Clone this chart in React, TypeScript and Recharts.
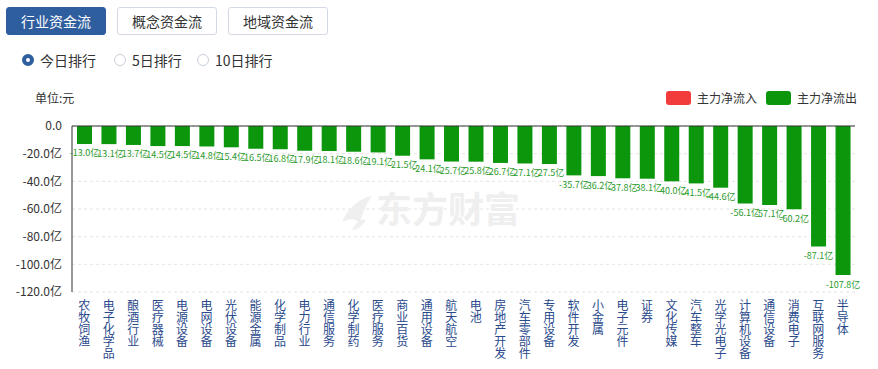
import React from "react";
import { BarChart, Bar, XAxis, YAxis, CartesianGrid, ReferenceLine, LabelList } from "recharts";

const categories = ["农牧饲渔","电子化学品","酿酒行业","医疗器械","电源设备","电网设备","光伏设备","能源金属","化学制品","电力行业","通信服务","化学制药","医疗服务","商业百货","通用设备","航天航空","电池","房地产开发","汽车零部件","专用设备","软件开发","小金属","电子元件","证券","文化传媒","汽车整车","光学光电子","计算机设备","通信设备","消费电子","互联网服务","半导体"];
const netFlow = [-13.0,-13.1,-13.7,-14.5,-14.5,-14.8,-15.4,-16.5,-16.8,-17.9,-18.1,-18.6,-19.1,-21.5,-24.1,-25.7,-25.8,-26.7,-27.1,-27.5,-35.7,-36.2,-37.8,-38.1,-40.0,-41.5,-44.6,-56.1,-57.1,-60.2,-87.1,-107.8];
const yTicks = [0,-20,-40,-60,-80,-100,-120];
const tabs = ["行业资金流","概念资金流","地域资金流"];
const radios = ["今日排行","5日排行","10日排行"];
const legendItems = [{ name: "主力净流入", color: "#f23c3c" }, { name: "主力净流出", color: "#0b960b" }];

const data = categories.map((c, i) => ({ name: c, value: netFlow[i] }));
const FONT = "'Noto Sans CJK SC', 'Noto Sans', sans-serif";
const GREEN = "#0b960b";

const XTick = (props: any) => {
  const { x, y, payload } = props;
  const chars = String(payload.value).split("");
  return (
    <g>
      {chars.map((ch, i) => (
        <text key={i} x={x} y={y + 10 + i * 12} textAnchor="middle" fontSize={12} fill="#2a4a8c" fontFamily={FONT}>{ch}</text>
      ))}
    </g>
  );
};

const ValueLabel = (props: any) => {
  const { x, y, width, height, value } = props;
  const bottom = Math.max(y, y + height);
  return (
    <text x={x + width / 2} y={bottom + 10} textAnchor="middle" dominantBaseline="middle" fontSize={9} fill="#2a9a2a" fontFamily={FONT}>
      {value.toFixed(1) + "亿"}
    </text>
  );
};

export default function App() {
  return (
    <div style={{ position: "absolute", left: 0, top: 0, width: 878, height: 369, background: "#fff", fontFamily: FONT, overflow: "hidden" }}>
      <div style={{ position: "absolute", left: 0, top: 0 }}>
        <BarChart width={878} height={369} data={data} margin={{ top: 126, right: 23, bottom: 7, left: 0 }} barSize={15}>
          <g fill="#efefef">
            <path d="M342 222 C348 208 360 198 372 196 C366 204 362 214 360 224 C356 218 350 218 342 222 Z" />
            <path d="M352 230 C356 222 362 218 366 220 C362 226 358 230 352 230 Z" />
          </g>
          <text x={448} y={213} textAnchor="middle" dominantBaseline="middle" fontSize={36} fontWeight={700} fill="#efefef" fontFamily={FONT}>东方财富</text>
          <CartesianGrid vertical={false} strokeDasharray="3 3" stroke="#e4e4e4" />
          <XAxis dataKey="name" axisLine={false} tickLine={false} interval={0} height={70} tick={<XTick />} />
          <YAxis domain={[-120, 0]} ticks={yTicks} width={72} axisLine={{ stroke: "#333" }} tickLine={false} tickMargin={4}
            tick={{ fontSize: 12, fill: "#333", fontFamily: FONT }}
            tickFormatter={(v: number) => (v === 0 ? "0.0" : v.toFixed(1) + "亿")} />
          <ReferenceLine y={0} stroke="#333" strokeWidth={1} />
          <Bar dataKey="value" fill={GREEN} isAnimationActive={false}>
            <LabelList dataKey="value" content={<ValueLabel />} />
          </Bar>
        </BarChart>
      </div>
      {tabs.map((t, i) => (
        <div key={t} style={{ position: "absolute", left: 6 + i * 111, top: 7, width: 100, height: 28, boxSizing: "border-box", borderRadius: 3,
          border: i === 0 ? "1px solid #2f5e9e" : "1px solid #d3d9e2", background: i === 0 ? "#2f5e9e" : "#fff", color: i === 0 ? "#fff" : "#333",
          fontSize: 14, lineHeight: "26px", textAlign: "center" }}>{t}</div>
      ))}
      {radios.map((r, i) => {
        const lefts = [22, 114, 197];
        return (
          <div key={r} style={{ position: "absolute", left: lefts[i], top: 51, height: 18, display: "flex", alignItems: "center", fontSize: 14, color: "#333" }}>
            <span style={{ display: "inline-block", width: 12, height: 12, boxSizing: "border-box", borderRadius: "50%",
              border: i === 0 ? "4px solid #2f5e9e" : "1px solid #c9d0da", background: "#fff", marginRight: 6 }} />
            {r}
          </div>
        );
      })}
      <div style={{ position: "absolute", left: 35, top: 89, fontSize: 12, color: "#333" }}>单位:元</div>
      {legendItems.map((l, i) => (
        <div key={l.name} style={{ position: "absolute", left: 666 + i * 100, top: 89, display: "flex", alignItems: "center", fontSize: 12, color: "#333" }}>
          <span style={{ display: "inline-block", width: 25, height: 14, borderRadius: 3, background: l.color, marginRight: 6 }} />
          {l.name}
        </div>
      ))}
    </div>
  );
}
